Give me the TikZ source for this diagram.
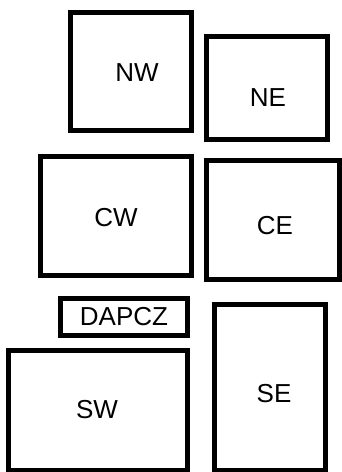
\documentclass[tikz,border=0pt]{standalone}
\usepackage{fontspec}
\setmainfont{Liberation Sans}

\begin{document}
\begin{tikzpicture}[
    x=1pt, y=-1pt,
    box/.style={draw, line width=5pt, inner sep=0pt},
    lbl/.style={inner sep=0pt, font=\fontsize{26}{31}\selectfont}
]
    \useasboundingbox (0,0) rectangle (342,472);

    % 方框 (上排)
    \node[box, minimum width=121pt, minimum height=118pt] (NW) at (131, 71.5) {};
    \node[box, minimum width=121pt, minimum height=102.5pt] (NE) at (267, 87.75) {};

    % 方框 (中排)
    \node[box, minimum width=151pt, minimum height=118.5pt] (CW) at (116, 215.75) {};
    \node[box, minimum width=133pt, minimum height=118.2pt] (CE) at (273, 219.9) {};

    % 方框 (下排)
    \node[box, lbl, minimum width=127pt, minimum height=36.5pt] (DAPCZ) at (124, 316.75) {DAPCZ};
    \node[box, minimum width=179pt, minimum height=120pt] (SW) at (98, 410) {};
    \node[box, minimum width=111pt, minimum height=165.5pt] (SE) at (270, 387.25) {};

    % 文字标签
    \node[lbl] (NWlbl) at (137, 73) {NW};
    \node[lbl] (NElbl) at (268, 98) {NE};
    \node[lbl] (CWlbl) at (116, 218) {CW};
    \node[lbl] (CElbl) at (275, 226) {CE};
    \node[lbl] (SWlbl) at (97, 410) {SW};
    \node[lbl] (SElbl) at (274, 394) {SE};

\end{tikzpicture}
\end{document}
